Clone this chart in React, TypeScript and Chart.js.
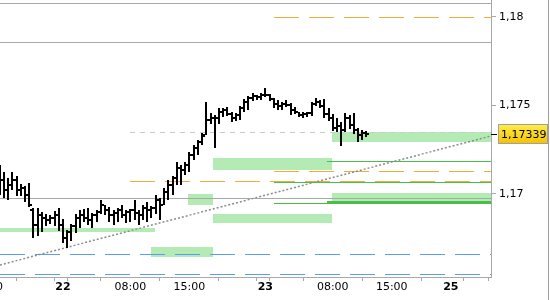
import React, { useEffect, useRef } from 'react';
import { Chart, registerables } from 'chart.js';
Chart.register(...registerables);

// Time axis: hours relative to day 22, 00:00 (weekend compressed)
const barStartHour = -7.5;
const barStepHours = 0.5;

const opens = [
  1.17051, 1.17079, 1.17023, 1.17051, 1.17079, 1.17023, 1.17034, 1.16994, 1.16910, 1.16825,
  1.16881, 1.16864, 1.16853, 1.16864, 1.16881, 1.16825, 1.16751, 1.16785, 1.16819, 1.16864,
  1.16881, 1.16864, 1.16853, 1.16881, 1.16898, 1.16938, 1.16910, 1.16881, 1.16893, 1.16910,
  1.16881, 1.16898, 1.16910, 1.16893, 1.16881, 1.16921, 1.16910, 1.16921, 1.16966, 1.16938,
  1.17011, 1.17051, 1.17090, 1.17147, 1.17136, 1.17164, 1.17220, 1.17260, 1.17294, 1.17333,
  1.17418, 1.17429, 1.17429, 1.17463, 1.17475, 1.17452, 1.17429, 1.17446, 1.17486, 1.17520,
  1.17542, 1.17554, 1.17548, 1.17559, 1.17559, 1.17537, 1.17508, 1.17497, 1.17508, 1.17503,
  1.17475, 1.17463, 1.17446, 1.17452, 1.17458, 1.17508, 1.17520, 1.17497, 1.17452, 1.17429,
  1.17373, 1.17384, 1.17362, 1.17429, 1.17390, 1.17362, 1.17333, 1.17345,
];
const highs = [
  1.17164, 1.17124, 1.17090, 1.17124, 1.17102, 1.17056, 1.17045, 1.17062, 1.16921, 1.16921,
  1.16898, 1.16887, 1.16881, 1.16904, 1.16921, 1.16859, 1.16797, 1.16831, 1.16887, 1.16910,
  1.16915, 1.16921, 1.16893, 1.16910, 1.16966, 1.16938, 1.16927, 1.16910, 1.16921, 1.16938,
  1.16910, 1.16915, 1.16966, 1.16910, 1.16938, 1.16955, 1.16932, 1.16994, 1.16977, 1.17034,
  1.17079, 1.17102, 1.17181, 1.17164, 1.17181, 1.17237, 1.17277, 1.17305, 1.17345, 1.17520,
  1.17458, 1.17446, 1.17486, 1.17486, 1.17492, 1.17463, 1.17458, 1.17497, 1.17537, 1.17554,
  1.17571, 1.17559, 1.17571, 1.17599, 1.17565, 1.17542, 1.17531, 1.17520, 1.17531, 1.17514,
  1.17492, 1.17463, 1.17463, 1.17463, 1.17520, 1.17542, 1.17531, 1.17537, 1.17486, 1.17452,
  1.17429, 1.17407, 1.17458, 1.17446, 1.17458, 1.17373, 1.17362, 1.17356,
];
const lows = [
  1.16994, 1.16977, 1.16966, 1.17023, 1.16989, 1.16989, 1.16955, 1.16927, 1.16751, 1.16763,
  1.16785, 1.16819, 1.16831, 1.16819, 1.16791, 1.16723, 1.16695, 1.16734, 1.16780, 1.16808,
  1.16842, 1.16825, 1.16808, 1.16842, 1.16887, 1.16881, 1.16842, 1.16825, 1.16842, 1.16864,
  1.16836, 1.16842, 1.16853, 1.16825, 1.16853, 1.16842, 1.16864, 1.16887, 1.16853, 1.16938,
  1.16966, 1.16994, 1.17051, 1.17051, 1.17107, 1.17124, 1.17192, 1.17220, 1.17277, 1.17333,
  1.17396, 1.17260, 1.17396, 1.17435, 1.17441, 1.17407, 1.17412, 1.17418, 1.17463, 1.17475,
  1.17525, 1.17531, 1.17531, 1.17548, 1.17525, 1.17486, 1.17475, 1.17475, 1.17492, 1.17446,
  1.17452, 1.17435, 1.17429, 1.17435, 1.17441, 1.17497, 1.17486, 1.17429, 1.17412, 1.17356,
  1.17350, 1.17271, 1.17350, 1.17367, 1.17339, 1.17294, 1.17305, 1.17322,
];
const closes = [
  1.17079, 1.17023, 1.17051, 1.17079, 1.17023, 1.17034, 1.16994, 1.16938, 1.16825, 1.16881,
  1.16864, 1.16853, 1.16864, 1.16881, 1.16825, 1.16751, 1.16785, 1.16819, 1.16864, 1.16881,
  1.16864, 1.16853, 1.16881, 1.16898, 1.16938, 1.16910, 1.16881, 1.16893, 1.16910, 1.16881,
  1.16898, 1.16910, 1.16893, 1.16881, 1.16921, 1.16910, 1.16921, 1.16966, 1.16938, 1.17011,
  1.17051, 1.17090, 1.17147, 1.17136, 1.17164, 1.17220, 1.17260, 1.17294, 1.17328, 1.17418,
  1.17429, 1.17429, 1.17463, 1.17475, 1.17452, 1.17429, 1.17446, 1.17486, 1.17520, 1.17542,
  1.17554, 1.17548, 1.17559, 1.17559, 1.17537, 1.17508, 1.17497, 1.17508, 1.17503, 1.17475,
  1.17463, 1.17446, 1.17452, 1.17458, 1.17508, 1.17520, 1.17497, 1.17452, 1.17429, 1.17373,
  1.17384, 1.17362, 1.17429, 1.17390, 1.17362, 1.17333, 1.17345, 1.17339,
];

const xTickHours = [-9, -2, 0, 1, 8, 15, 22, 24, 25, 32, 39, 46, 49];
const xTickLabels = ['15:00', '', '22', '', '08:00', '15:00', '', '23', '', '08:00', '15:00', '25', ''];
const dayLabels = ['22', '23', '25'];
const yTickValues = [1.17, 1.175, 1.18];
const xMin = -7.47;
const xMax = 50.77;
const yMin = 1.16531;
const yMax = 1.18096;

// Horizontal levels
const grayLevels = [1.18079, 1.17859, 1.16977];
const orangeFrom = [25, 25, 8];
const orangeLevels = [1.18, 1.1713, 1.17073];
const greenFrom = [31.3, 25, 25, 31.3];
const greenLevels = [1.17186, 1.17068, 1.16949, 1.16955];
const greenWidths = [1, 1, 1, 2];
const grayDashFrom = [8];
const grayDashLevels = [1.1735];
const blueLevels = [1.16661, 1.16548];
// Zones: start hour, end hour, top price, bottom price
const zoneStart = [31.9, 17.8, 14.8, 31.9, 17.8, -7.5, 10.4];
const zoneEnd = [50.77, 31.9, 17.8, 50.77, 31.9, 10.9, 17.8];
const zoneTop = [1.1735, 1.17203, 1.17, 1.17006, 1.16887, 1.16808, 1.16701];
const zoneBottom = [1.17294, 1.17136, 1.16938, 1.16955, 1.16836, 1.16785, 1.16644];
// Trend line
const trendHours = [-7.47, 50.77];
const trendPrices = [1.16599, 1.17328];

const FONT = 'DejaVu Sans';

const overlayPlugin = {
  id: 'overlay',
  beforeDatasetsDraw(chart: any) {
    const { ctx, chartArea: a, scales } = chart;
    const x = scales.x, y = scales.y;
    ctx.save();
    ctx.beginPath();
    ctx.rect(a.left, a.top, a.right - a.left, a.bottom - a.top);
    ctx.clip();
    ctx.fillStyle = '#b4eab4';
    for (let i = 0; i < zoneStart.length; i++) {
      const x0 = Math.round(x.getPixelForValue(zoneStart[i]));
      const x1 = Math.round(x.getPixelForValue(zoneEnd[i]));
      const y0 = Math.round(y.getPixelForValue(zoneTop[i]));
      const y1 = Math.round(y.getPixelForValue(zoneBottom[i]));
      ctx.fillRect(x0, y0, x1 - x0, y1 - y0);
    }
    const hline = (from: number, price: number, color: string, width: number, dash: number[]) => {
      const px = Math.round(x.getPixelForValue(from));
      let py = Math.round(y.getPixelForValue(price));
      if (width % 2 === 1) py += 0.5;
      ctx.beginPath();
      ctx.strokeStyle = color;
      ctx.lineWidth = width;
      ctx.setLineDash(dash);
      ctx.moveTo(px, py);
      ctx.lineTo(a.right, py);
      ctx.stroke();
    };
    grayLevels.forEach((p) => hline(xMin, p, '#a8a8a8', 1, []));
    grayDashLevels.forEach((p, i) => hline(grayDashFrom[i], p, '#cacaca', 1, [5, 5]));
    orangeLevels.forEach((p, i) => hline(orangeFrom[i], p, '#f0ad38', 1, [25, 10]));
    greenLevels.forEach((p, i) => hline(greenFrom[i], p, '#46c046', greenWidths[i], []));
    blueLevels.forEach((p) => hline(xMin, p, '#5b9cf6', 1, [25, 10]));
    // dotted trend
    ctx.beginPath();
    ctx.strokeStyle = '#8c8c8c';
    ctx.lineWidth = 1.5;
    ctx.setLineDash([2, 2]);
    ctx.moveTo(x.getPixelForValue(trendHours[0]), y.getPixelForValue(trendPrices[0]));
    ctx.lineTo(x.getPixelForValue(trendHours[1]), y.getPixelForValue(trendPrices[1]));
    ctx.stroke();
    ctx.restore();
  },
  afterDatasetsDraw(chart: any) {
    const { ctx, chartArea: a, scales } = chart;
    const y = scales.y;
    const meta = chart.getDatasetMeta(0);
    ctx.save();
    ctx.beginPath();
    ctx.rect(a.left, a.top, a.right - a.left, a.bottom - a.top);
    ctx.clip();
    ctx.fillStyle = '#000';
    meta.data.forEach((el: any, i: number) => {
      // crisp OHLC glyph from the bar element geometry
      const cx = Math.round(el.x);
      const top = Math.round(Math.min(el.y, el.base));
      const bot = Math.round(Math.max(el.y, el.base));
      ctx.fillRect(cx - 1, top, 2, Math.max(1, bot - top));
      const oy = Math.round(y.getPixelForValue(opens[i]));
      const cy = Math.round(y.getPixelForValue(closes[i]));
      ctx.fillRect(cx - 3, oy - 1, 2, 2);
      ctx.fillRect(cx + 1, cy - 1, 2, 2);
    });
    ctx.restore();
  },
  afterDraw(chart: any) {
    const { ctx, chartArea: a, scales } = chart;
    const y = scales.y;
    const last = closes[closes.length - 1];
    const py = Math.round(y.getPixelForValue(last));
    ctx.save();
    ctx.strokeStyle = '#000';
    ctx.lineWidth = 1;
    ctx.beginPath();
    ctx.moveTo(a.right, py + 0.5);
    ctx.lineTo(a.right + 6, py + 0.5);
    ctx.stroke();
    const bx = a.right + 7, bw = 50, bh = 20, by = py - 10;
    const g = ctx.createLinearGradient(0, by, 0, by + bh);
    g.addColorStop(0, '#ffee4a');
    g.addColorStop(1, '#f5c000');
    ctx.fillStyle = g;
    ctx.fillRect(bx, by, bw, bh);
    ctx.strokeStyle = '#a0a0a0';
    ctx.strokeRect(bx + 0.5, by + 0.5, bw - 1, bh - 1);
    ctx.fillStyle = '#000';
    ctx.font = `11px "${FONT}"`;
    ctx.textBaseline = 'middle';
    ctx.textAlign = 'left';
    ctx.fillText(last.toFixed(5).replace('.', ','), bx + 3, py + 1);
    ctx.strokeStyle = '#a0a0a0';
    ctx.beginPath();
    ctx.moveTo(548.5, 0);
    ctx.lineTo(548.5, 300);
    ctx.stroke();
    ctx.restore();
  },
};

export default function App() {
  const ref = useRef<HTMLCanvasElement | null>(null);
  useEffect(() => {
    document.body.style.margin = '0';
    const canvas = ref.current;
    if (!canvas) return;
    const data = highs.map((h, i) => ({ x: barStartHour + barStepHours * i, y: [lows[i], h] }));
    const chart = new Chart(canvas, {
      type: 'bar',
      data: {
        datasets: [
          {
            data: data as any,
            backgroundColor: 'rgba(0,0,0,0)',
            borderWidth: 0,
            barThickness: 2,
            grouped: false,
          } as any,
        ],
      },
      options: {
        animation: false,
        responsive: false,
        devicePixelRatio: 1,
        layout: { padding: 0 },
        plugins: { legend: { display: false }, tooltip: { enabled: false } },
        scales: {
          x: {
            type: 'linear',
            min: xMin,
            max: xMax,
            offset: false,
            afterBuildTicks: (s: any) => {
              s.ticks = xTickHours.map((v) => ({ value: v }));
            },
            afterFit: (s: any) => {
              s.height = 23;
              s.paddingLeft = 0;
              s.paddingRight = 0;
            },
            grid: { drawOnChartArea: false, drawTicks: true, tickLength: 4, color: '#a8a8a8' },
            border: { color: '#a8a8a8' },
            ticks: {
              autoSkip: false,
              maxRotation: 0,
              minRotation: 0,
              padding: 0,
              color: '#000',
              font: (c: any) => ({
                family: FONT,
                size: 11,
                weight: c.tick && dayLabels.includes(c.tick.label) ? 'bold' : 'normal',
              }),
              callback: (v: any) => {
                const idx = xTickHours.indexOf(Number(v));
                return idx >= 0 ? xTickLabels[idx] : '';
              },
            },
          },
          y: {
            type: 'linear',
            position: 'right',
            min: yMin,
            max: yMax,
            afterBuildTicks: (s: any) => {
              s.ticks = yTickValues.map((v) => ({ value: v }));
            },
            afterFit: (s: any) => {
              s.width = 59;
              s.paddingTop = 0;
              s.paddingBottom = 0;
            },
            grid: { drawOnChartArea: false, drawTicks: true, tickLength: 5, color: '#a8a8a8' },
            border: { color: '#a8a8a8' },
            ticks: {
              padding: 3,
              color: '#000',
              font: { family: FONT, size: 11 },
              callback: (v: any) => String(v).replace('.', ','),
            },
          },
        },
      },
      plugins: [overlayPlugin],
    });
    return () => chart.destroy();
  }, []);
  return (
    <div style={{ position: 'absolute', left: 0, top: 0, width: 550, height: 300, background: '#fff' }}>
      <canvas ref={ref} width={550} height={300} style={{ width: 550, height: 300, display: 'block' }} />
    </div>
  );
}
